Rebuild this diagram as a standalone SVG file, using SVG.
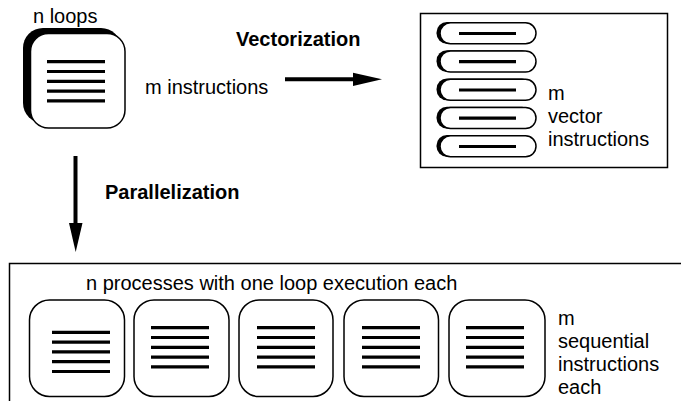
<svg xmlns="http://www.w3.org/2000/svg" width="681" height="409" viewBox="0 0 681 409">
  <style>
    text { font-family: "Liberation Sans", Arial, Helvetica, sans-serif; font-size: 20px; fill: #000; }
    .bold { font-weight: bold; }
    .card { fill: #fff; stroke: #000; stroke-width: 1.5; }
    .shadow { fill: #000; }
    .instr { stroke: #000; stroke-width: 3.2; fill: none; }
    .frame { fill: none; stroke: #000; stroke-width: 1.5; }
    .conn { stroke: #000; stroke-width: 4; fill: none; }
  </style>
  <defs>
    <!-- five instruction bars inside a loop card -->
    <g id="bars">
      <path class="instr" d="M0 0H58M0 9.8H58M0 19.6H58M0 29.4H58M0 39.2H58"/>
    </g>
    <!-- rounded vector instruction with dark left edge -->
    <g id="pill">
      <rect class="shadow" x="-2.5" y="-0.8" width="96" height="21.8" rx="10.5"/>
      <rect class="card" x="1" y="0" width="96" height="21" rx="10.5"/>
      <path class="instr" d="M20 10.7H77"/>
    </g>
  </defs>

  <!-- loop node -->
  <g id="loop">
    <rect class="shadow" x="23" y="28" width="98" height="95" rx="20"/>
    <rect class="card" x="30.5" y="33.5" width="94.5" height="94.5" rx="18"/>
    <use href="#bars" x="47" y="61.7"/>
    <text x="33" y="23">n loops</text>
    <text x="145" y="94">m instructions</text>
  </g>

  <!-- vectorized node -->
  <g id="vector">
    <rect class="frame" x="420.5" y="13.5" width="247" height="154"/>
    <use href="#pill" x="439" y="22.8"/>
    <use href="#pill" x="439" y="51"/>
    <use href="#pill" x="439" y="79.3"/>
    <use href="#pill" x="439" y="107.5"/>
    <use href="#pill" x="439" y="135.8"/>
    <text x="548" y="100">m</text>
    <text x="548" y="123">vector</text>
    <text x="548" y="146">instructions</text>
  </g>

  <!-- parallelized node -->
  <g id="processes">
    <path class="frame" d="M681 263.5H9.5V401"/>
    <text x="86" y="290">n processes with one loop execution each</text>
    <rect class="card" x="29.5" y="300" width="95" height="96.5" rx="20"/>
    <use href="#bars" x="52" y="332.3"/>
    <rect class="card" x="134" y="300" width="95" height="96.5" rx="20"/>
    <use href="#bars" x="151" y="327.7"/>
    <rect class="card" x="239" y="300" width="94" height="96.5" rx="20"/>
    <use href="#bars" x="257" y="327.7"/>
    <rect class="card" x="344" y="300" width="94.5" height="96.5" rx="20"/>
    <use href="#bars" x="362" y="327.7"/>
    <rect class="card" x="449" y="300" width="96" height="96.5" rx="20"/>
    <use href="#bars" x="466" y="327.7"/>
    <text x="558" y="325">m</text>
    <text x="558" y="348">sequential</text>
    <text x="558" y="371">instructions</text>
    <text x="558" y="394">each</text>
  </g>

  <!-- connectors -->
  <g id="connectors">
    <path class="conn" d="M285 79.3H354"/>
    <polygon points="353,72.7 382,79.3 353,85.9"/>
    <text class="bold" x="236" y="46">Vectorization</text>
    <path class="conn" d="M75.5 156V224"/>
    <polygon points="69,223 82.5,223 75.7,252"/>
    <text class="bold" x="105" y="199">Parallelization</text>
  </g>
</svg>
